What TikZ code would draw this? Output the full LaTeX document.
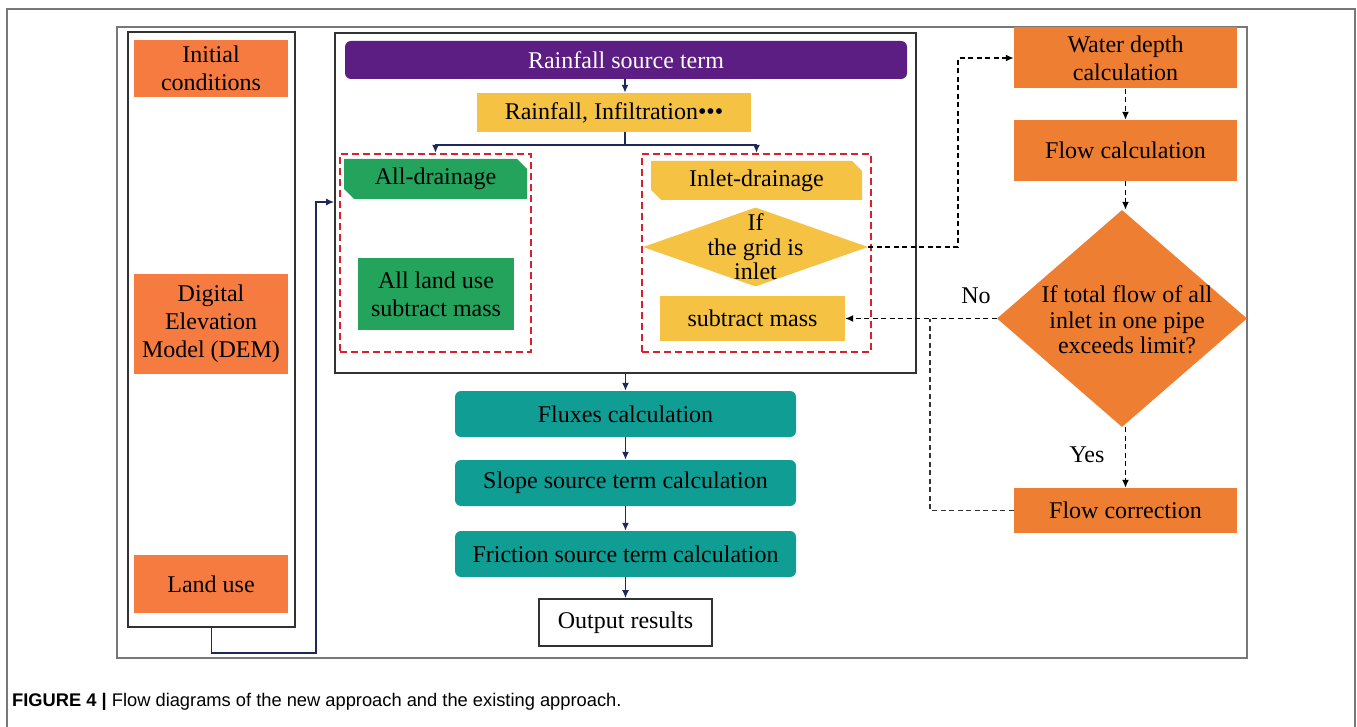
\documentclass[tikz,border=0pt]{standalone}
\usepackage{fontspec}
\setmainfont{Liberation Serif}
\newfontfamily\capfont{Liberation Sans}
\usetikzlibrary{shapes.geometric,shapes.misc,arrows.meta,calc}
\definecolor{purplec}{RGB}{92,30,130}
\definecolor{yellowc}{RGB}{246,194,67}
\definecolor{greenc}{RGB}{36,163,92}
\definecolor{orangeL}{RGB}{245,123,64}
\definecolor{orangeR}{RGB}{238,126,50}
\definecolor{tealc}{RGB}{16,157,148}
\definecolor{navyc}{RGB}{30,40,90}
\definecolor{redd}{RGB}{220,30,45}
\definecolor{frameg}{RGB}{120,120,120}
\definecolor{darkg}{RGB}{50,50,50}
\tikzset{
  txt/.style={font=\fontsize{24}{28}\selectfont, align=center, inner sep=0pt, text=black},
  boxwh/.style 2 args={minimum width=#1, minimum height=#2},
  orL/.style={txt, fill=orangeL},
  orR/.style={txt, fill=orangeR},
  teal/.style={txt, fill=tealc, rounded corners=6pt},
  tab/.style={txt, chamfered rectangle, chamfered rectangle corners={north east,south west}, chamfered rectangle xsep=5pt, chamfered rectangle ysep=5pt},
  redbox/.style={draw=redd, line width=2.2pt, dash pattern=on 7pt off 4pt, inner sep=0pt},
  navyarrow/.style={draw=navyc, line width=1.8pt, -{Latex[length=8pt,width=7pt]}},
  navyline/.style={draw=navyc, line width=1.8pt},
  dasharrow/.style={draw=black, line width=1.7pt, dash pattern=on 5pt off 3.5pt, -{Latex[length=8pt,width=7pt]}},
  dashline/.style={draw=black!80, line width=1.7pt, dash pattern=on 5pt off 3.5pt},
}
\begin{document}
\begin{tikzpicture}[x=1pt,y=-1pt]
\useasboundingbox (0,0) rectangle (1357,727);
% outer frame
\draw[frameg, line width=1.8pt] (7,727) -- (7,9) -- (1355,9) -- (1355,727);
% inner frame
\node[draw=frameg, line width=1.6pt, boxwh={1130pt}{631pt}] (frame) at (682,342.5) {};
% left box
\node[draw=darkg, line width=1.6pt, boxwh={167pt}{595pt}] (lbox) at (211.5,329.5) {};
\node[orL, boxwh={154pt}{57pt}] (init) at (211,68.5) {Initial\\conditions};
\node[orL, boxwh={154pt}{100pt}] (dem) at (211,324) {Digital\\Elevation\\Model (DEM)};
\node[orL, boxwh={154pt}{58pt}] (land) at (211,584) {Land use};
% central box
\node[draw=darkg, line width=1.6pt, boxwh={581pt}{340pt}] (cbox) at (625.5,203) {};
\node[txt, fill=purplec, text=white, rounded corners=6pt, boxwh={562pt}{38pt}] (rain) at (626,60) {Rainfall source term};
\node[txt, fill=yellowc, boxwh={274pt}{39pt}] (rif) at (614,112.5) {Rainfall, Infiltration•••};
\coordinate (s0) at (625,145);
\node[redbox, boxwh={191pt}{198pt}] (dashL) at (435.5,253) {};
\node[redbox, boxwh={229pt}{198pt}] (dashR) at (756.5,253) {};
\node[tab, fill=greenc, boxwh={183pt}{40pt}] (alld) at (435.5,179) {All-drainage};
\node[txt, fill=greenc, boxwh={156pt}{72pt}] (landuse) at (436,294) {All land use\\subtract mass};
\node[tab, fill=yellowc, boxwh={211pt}{39pt}] (inld) at (756.5,180.5) {Inlet-drainage};
\node[diamond, fill=yellowc, inner sep=0pt, minimum width=225pt, minimum height=79pt, aspect=2.85] (dia1) at (755.5,247) {};
\node[txt, font=\fontsize{24}{24.5}\selectfont] (dia1t) at (755.5,247) {If\\the grid is\\inlet};
\node[txt, fill=yellowc, boxwh={185pt}{45pt}] (subm) at (752.5,318.5) {subtract mass};
% right column
\node[orR, boxwh={223pt}{61pt}] (wdc) at (1125.5,58) {Water depth\\calculation};
\node[orR, boxwh={223pt}{61pt}] (flc) at (1125.5,150.5) {Flow calculation};
\node[diamond, fill=orangeR, inner sep=0pt, minimum width=250pt, minimum height=217pt, aspect=1.15] (bigdia) at (1122,318.5) {};
\node[txt, font=\fontsize{24}{25.5}\selectfont] (bigdiat) at (1127,320) {If total flow of all\\inlet in one pipe\\exceeds limit?};
\node[orR, boxwh={223pt}{45pt}] (flcor) at (1125.5,510.5) {Flow correction};
\node[txt] (no) at (976,296) {No};
\node[txt] (yes) at (1087,455) {Yes};
% bottom column
\node[teal, boxwh={341pt}{46pt}] (fluxes) at (625.5,414) {Fluxes calculation};
\node[teal, boxwh={341pt}{46pt}] (slope) at (625.5,483) {Slope source term calculation};
\node[teal, boxwh={341pt}{46pt}] (fric) at (625.5,554) {Friction source term calculation};
\node[txt, draw=darkg, line width=1.6pt, fill=white, boxwh={173pt}{47pt}] (out) at (625.5,622.5) {Output results};
% navy connectors
\draw[navyarrow] (rain.south -| s0) -- (rif.north -| s0);
\draw[navyline] (rif.south -| s0) -- (s0);
\draw[navyarrow] (s0) -| (dashL.north);
\draw[navyarrow] (s0) -| (dashR.north);
\draw[navyarrow] (cbox.south) -- (fluxes.north);
\draw[navyarrow] (fluxes.south) -- (slope.north);
\draw[navyarrow] (slope.south) -- (fric.north);
\draw[navyarrow] (fric.south) -- (out.north);
\coordinate (j2) at (316,202);
\draw[navyarrow] (lbox.south) -- ++(0,25) -| (j2) -- (cbox.west |- j2);
% dashed connectors
\coordinate (k1) at (958,58);
\draw[dasharrow] (dia1.east) -| (k1) -- (wdc.west);
\draw[dasharrow] (wdc.south) -- (flc.north);
\draw[dasharrow] (flc.south) -- (bigdia.north -| flc.south);
\draw[dasharrow] (bigdia.west) -- (subm.east |- bigdia.west);
\draw[dasharrow] (bigdia.south -| flcor.north) -- (flcor.north);
\coordinate (k2) at (930,318.5);
\draw[dashline] (flcor.west) -| (k2);
% caption
\node[anchor=base west, inner sep=0pt, font=\capfont\fontsize{18.3}{21}\selectfont] (cap) at (12,706) {\textbf{FIGURE 4 |} Flow diagrams of the new approach and the existing approach.};
\end{tikzpicture}
\end{document}
